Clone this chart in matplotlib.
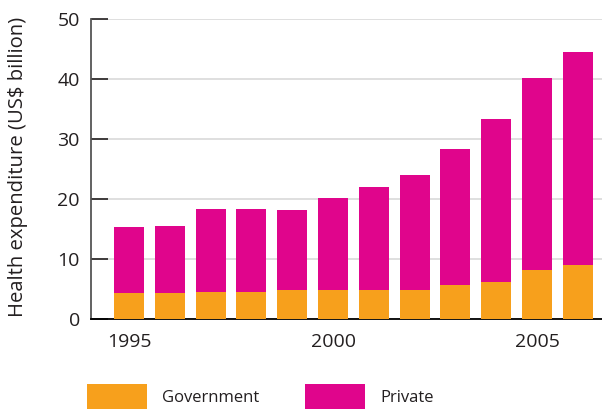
import matplotlib
matplotlib.use("Agg")
import matplotlib.pyplot as plt

# Data
years = [1995, 1996, 1997, 1998, 1999, 2000, 2001, 2002, 2003, 2004, 2005, 2006]
total = [15.3, 15.5, 18.3, 18.3, 18.2, 20.2, 22.0, 24.0, 28.3, 33.3, 40.2, 44.5]
government = [4.3, 4.3, 4.5, 4.5, 4.8, 4.8, 4.8, 4.8, 5.7, 6.2, 8.2, 9.0]
private = [t - g for t, g in zip(total, government)]
xticks = [1995, 2000, 2005]
yticks = [0, 10, 20, 30, 40, 50]

ORANGE = "#F7A01C"
MAGENTA = "#E0058C"
TEXT = "#231F20"

plt.rcParams["font.family"] = ["Open Sans", "DejaVu Sans"]

fig = plt.figure(figsize=(6.02, 4.09), dpi=100)
ax = fig.add_axes([91 / 602, 90 / 409, 511 / 602, 300 / 409])

w = 0.735
b1 = ax.bar(years, government, width=w, color=ORANGE, label="Government", zorder=3)
b2 = ax.bar(years, private, width=w, bottom=government, color=MAGENTA, label="Private", zorder=3)

ax.set_xlim(1994.07, 2006.59)
ax.set_ylim(0, 50)
ax.set_yticks(yticks)
ax.set_xticks(xticks)
ax.set_xticklabels([str(x) for x in xticks])
ax.yaxis.grid(True, color="#d9d9d9", linewidth=1.2, zorder=0)
ax.set_axisbelow(True)

ax.tick_params(axis="y", direction="in", length=12, width=1.2, color=TEXT,
               labelsize=14, labelcolor=TEXT, pad=8)
ax.tick_params(axis="x", length=0, labelsize=14, labelcolor=TEXT, pad=10)

for s in ["top", "right"]:
    ax.spines[s].set_visible(False)
ax.spines["left"].set_color("#555555")
ax.spines["left"].set_linewidth(1.3)
ax.spines["bottom"].set_color("black")
ax.spines["bottom"].set_linewidth(1.3)

fig.text(18 / 602, 1 - 167 / 409, "Health expenditure (US$ billion)",
         rotation=90, ha="center", va="center", fontsize=14.6, color=TEXT)

fig.legend(handles=[b1, b2], loc="lower left", bbox_to_anchor=(87 / 602, 0),
           ncol=2, frameon=False, fontsize=12, labelcolor=TEXT,
           handlelength=3.6, handleheight=1.9, handletextpad=0.9,
           columnspacing=2.75, borderpad=0, borderaxespad=0)

fig.savefig("out.png", dpi=100)
